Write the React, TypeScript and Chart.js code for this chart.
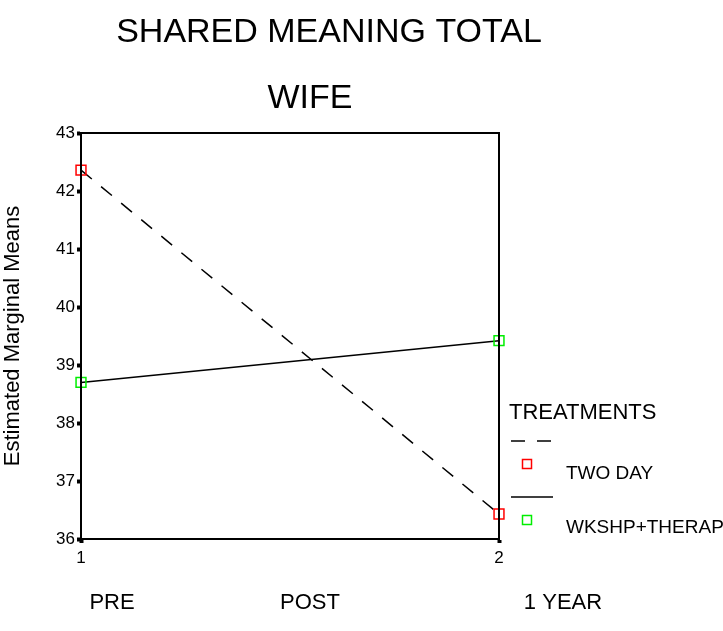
import React, { useEffect, useRef } from "react";
import { Chart, registerables } from "chart.js";

Chart.register(...registerables);

const timePoints = [1, 2];
const twoDay = [42.36, 36.43];
const wkshpTherap = [38.7, 39.42];
const yTicks = [36, 37, 38, 39, 40, 41, 42, 43];
const bottomLabels = ["PRE", "POST", "1 YEAR"];
const seriesNames = ["TWO DAY", "WKSHP+THERAP"];
const titleLines = ["SHARED MEANING TOTAL", "WIFE"];

const FONT = "'Liberation Sans', Arial, sans-serif";

const decorPlugin = {
  id: "decor",
  afterDraw(chart: any) {
    const { ctx, chartArea } = chart;
    const { left, right, top, bottom } = chartArea;
    ctx.save();
    // frame
    ctx.strokeStyle = "#000";
    ctx.lineWidth = 2;
    ctx.strokeRect(left, top, right - left, bottom - top);

    ctx.fillStyle = "#000";
    ctx.textAlign = "center";
    ctx.textBaseline = "alphabetic";
    // titles
    ctx.font = `34px ${FONT}`;
    ctx.fillText(titleLines[0], 329, 42);
    ctx.fillText(titleLines[1], 310, 108);

    // bottom labels
    ctx.font = `22px ${FONT}`;
    const xs = [112, 310, 563];
    bottomLabels.forEach((t, i) => ctx.fillText(t, xs[i], 609));

    // legend
    ctx.textAlign = "left";
    ctx.textBaseline = "middle";
    ctx.font = `22px ${FONT}`;
    ctx.fillText("TREATMENTS", 509, 413);
    ctx.lineWidth = 1.5;
    ctx.strokeStyle = "#000";
    ctx.setLineDash([14, 12]);
    ctx.beginPath();
    ctx.moveTo(511, 441);
    ctx.lineTo(553, 441);
    ctx.stroke();
    ctx.setLineDash([]);
    ctx.beginPath();
    ctx.moveTo(511, 497);
    ctx.lineTo(553, 497);
    ctx.stroke();
    ctx.strokeStyle = "#ff0000";
    ctx.strokeRect(522.5, 459.5, 9, 9);
    ctx.strokeStyle = "#00ee00";
    ctx.strokeRect(522.5, 515.5, 9, 9);
    ctx.font = `19px ${FONT}`;
    ctx.fillText(seriesNames[0], 566, 474);
    ctx.fillText(seriesNames[1], 566, 528);
    ctx.restore();
  },
};

export default function App() {
  const ref = useRef<HTMLCanvasElement>(null);
  useEffect(() => {
    if (!ref.current) return;
    const chart = new Chart(ref.current, {
      type: "line",
      data: {
        datasets: [
          {
            label: seriesNames[0],
            data: timePoints.map((x, i) => ({ x, y: twoDay[i] })),
            borderColor: "#000",
            borderWidth: 1.5,
            borderDash: [14, 12],
            pointStyle: "rect",
            pointRadius: 7,
            pointBorderColor: "#ff0000",
            pointBackgroundColor: "rgba(0,0,0,0)",
            pointBorderWidth: 1.5,
            clip: false as any,
          },
          {
            label: seriesNames[1],
            data: timePoints.map((x, i) => ({ x, y: wkshpTherap[i] })),
            borderColor: "#000",
            borderWidth: 1.5,
            pointStyle: "rect",
            pointRadius: 7,
            pointBorderColor: "#00ee00",
            pointBackgroundColor: "rgba(0,0,0,0)",
            pointBorderWidth: 1.5,
            clip: false as any,
          },
        ],
      },
      options: {
        responsive: false,
        animation: false,
        layout: { padding: { left: 0, top: 133, right: 224, bottom: 0 } },
        plugins: {
          legend: { display: false },
          tooltip: { enabled: false },
          title: { display: false },
        },
        scales: {
          x: {
            type: "linear",
            min: 1,
            max: 2,
            afterFit: (s: any) => {
              s.height = 92;
            },
            afterBuildTicks: (s: any) => {
              s.ticks = timePoints.map((v) => ({ value: v }));
            },
            border: { display: true, color: "#000", width: 2 },
            grid: {
              drawOnChartArea: false,
              tickLength: 4,
              tickWidth: 4,
              color: "#000",
            },
            ticks: {
              color: "#000",
              font: { family: FONT, size: 17 },
              padding: 5,
              maxRotation: 0,
              callback: (v: any) => String(v),
            },
          },
          y: {
            min: 36,
            max: 43,
            afterFit: (s: any) => {
              s.width = 81;
            },
            afterBuildTicks: (s: any) => {
              s.ticks = yTicks.map((v) => ({ value: v }));
            },
            border: { display: true, color: "#000", width: 2 },
            grid: {
              drawOnChartArea: false,
              tickLength: 4,
              tickWidth: 4,
              color: "#000",
            },
            ticks: {
              color: "#000",
              font: { family: FONT, size: 17 },
              padding: 2,
              callback: (v: any) => String(v),
            },
            title: {
              display: true,
              text: "Estimated Marginal Means",
              color: "#000",
              font: { family: FONT, size: 22 },
              padding: { top: 0, bottom: 6 },
            },
          },
        },
      },
      plugins: [decorPlugin],
    });
    return () => chart.destroy();
  }, []);
  return (
    <canvas
      ref={ref}
      width={723}
      height={631}
      style={{ position: "fixed", left: 0, top: 0, width: 723, height: 631, background: "#fff" }}
    />
  );
}
